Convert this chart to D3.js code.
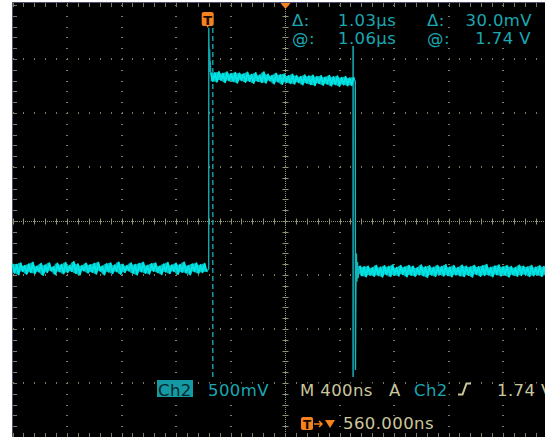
<!DOCTYPE html>
<html><head><meta charset="utf-8">
<script src="https://cdn.jsdelivr.net/npm/d3@7"></script>
<style>
html,body{margin:0;padding:0;background:#fff;}
svg{display:block;}
text{font-family:"DejaVu Sans",sans-serif;}
</style>
</head><body>
<svg id="c" width="545" height="437"></svg>
<script>
// ---------- data ----------
const timePerDiv = 400;      // ns / div
const voltPerDiv = 500;      // mV / div
const horizPos = 560;        // ns (trigger -> screen centre)
const sampleStep = 15;       // ns between samples
const cursorTimes = [30, 1060]; // ns, cursor 1 (dashed), cursor 2 (solid)

const preStart = -1440;
const preSamples = [
-395,-480,-405,-495,-390,-465,-415,-490,-400,-475,
-385,-485,-420,-470,-395,-500,-410,-475,-390,-460,
-425,-493,-393,-467,-405,-487,-387,-475,-413,-465,
-380,-483,-400,-497,-415,-460,-393,-480,-407,-473,
-395,-488,-385,-463,-420,-495,-398,-471,-390,-485,
-410,-467,-383,-491,-403,-475,-415,-460,-391,-483,
-405,-497,-395,-468,-385,-481,-413,-489,-397,-463,
-390,-475,-420,-493,-401,-470,-387,-485,-409,-465,
-393,-491,-405,-473,-383,-480,-415,-495,-399,-467,
-391,-483,-407,-475,-395,-470];

const highStart = 15;
const highSamples = [
1375,1295,1370,1290,1380,1305,1365,1285,1377,1300,
1363,1293,1373,1280,1367,1303,1360,1287,1375,1295,
1355,1277,1370,1295,1350,1285,1377,1280,1357,1300,
1345,1273,1365,1290,1353,1267,1360,1285,1343,1275,
1357,1270,1345,1285,1335,1263,1350,1277,1340,1265,
1347,1257,1335,1275,1343,1260,1330,1270,1345,1253,
1333,1265,1340,1250,1327,1263,1335,1255,1323,1257,1330];

const postStart = 1110;
const postSamples = [
-415,-505,-425,-515,-420,-500,-435,-510,-413,-503,
-430,-517,-417,-495,-423,-513,-410,-500,-433,-507,
-415,-493,-427,-515,-413,-501,-421,-510,-435,-497,
-410,-505,-425,-520,-417,-499,-431,-511,-413,-495,
-423,-508,-407,-502,-429,-515,-415,-497,-433,-505,
-411,-513,-420,-500,-427,-517,-413,-493,-425,-510,
-417,-503,-405,-499,-431,-514,-419,-495,-410,-507,
-425,-501,-415,-516,-423,-498,-433,-509,-412,-502,
-420,-495,-427,-512,-414,-505,-430,-499,-416,-511,
-423,-503];

// edge transitions [ns, mV]
const riseEdge = [[-15,-470],[0,-440],[0.5,1790],[4,1450],[7,1590],[10,1380],[12,1480],[15,1375]];
const fallEdge = [[1065,1330],[1072,1300],[1076,1290],[1077,-1380],[1080,-650],[1084,-300],[1088,-560],[1092,-380],[1097,-530],[1102,-420],[1106,-490],[1110,-415]];

const readTop = [["Δ:", "1.03µs", "Δ:", "30.0mV"], ["@:", "1.06µs", "@:", "1.74 V"]];
const chLabel = "Ch2", scaleLabel = "500mV", timebaseLabel = "M 400ns",
      trigSrcA = "A", trigSrc = "Ch2", trigLevel = "1.74 V", posLabel = "560.000ns";

// ---------- drawing ----------
const svg = d3.select("#c");
const W = 545, H = 437;
const x = d3.scaleLinear().domain([horizPos - 5*timePerDiv, horizPos + 5*timePerDiv]).range([12.5, 557.5]);
const y = d3.scaleLinear().domain([-4*voltPerDiv, 4*voltPerDiv]).range([437, 5]);

svg.append("rect").attr("x",0).attr("y",0).attr("width",W).attr("height",H).attr("fill","#fff");
svg.append("rect").attr("x",12).attr("y",2).attr("width",W-12).attr("height",H-2).attr("fill","#000");
svg.append("line").attr("x1",12.5).attr("x2",12.5).attr("y1",2).attr("y2",H).attr("stroke","#505070").attr("stroke-width",1);
svg.append("line").attr("x1",12).attr("x2",W).attr("y1",2.5).attr("y2",2.5).attr("stroke","#505070").attr("stroke-width",1);

const grid = svg.append("g");
const gridCol = "#7c7c60";
const majX = d3.range(-5, 6).map(i => horizPos + i*timePerDiv);
const majY = d3.range(-4, 5).map(i => i*voltPerDiv);
const minX = d3.range(-25, 26).map(i => horizPos + i*timePerDiv/5);
const minY = d3.range(-20, 21).map(i => i*voltPerDiv/5);

majX.forEach((t,i) => {
  if (i === 5 || i === 0) return;
  minY.forEach(v => grid.append("rect").attr("x", Math.round(x(t))-1).attr("y", Math.round(y(v))).attr("width",2).attr("height",1).attr("fill",gridCol));
});
majY.forEach((v,i) => {
  if (i === 4 || i === 0 || i === 8) return;
  minX.forEach(t => grid.append("rect").attr("x", Math.round(x(t))).attr("y", Math.round(y(v))-1).attr("width",1).attr("height",2).attr("fill",gridCol));
});
const cx = Math.round(x(horizPos)) + 0.5, cy = Math.round(y(0)) + 0.5;
const ctrCol = "#929274";
grid.append("line").attr("x1",13).attr("x2",W).attr("y1",cy).attr("y2",cy).attr("stroke",ctrCol).attr("stroke-dasharray","1,1");
grid.append("line").attr("x1",cx).attr("x2",cx).attr("y1",3).attr("y2",H).attr("stroke",ctrCol).attr("stroke-dasharray","1,1");
minX.forEach(t => grid.append("line").attr("x1",Math.round(x(t))+0.5).attr("x2",Math.round(x(t))+0.5).attr("y1",cy-3).attr("y2",cy+3).attr("stroke",ctrCol));
minY.forEach(v => grid.append("line").attr("y1",Math.round(y(v))+0.5).attr("y2",Math.round(y(v))+0.5).attr("x1",cx-3).attr("x2",cx+3).attr("stroke",ctrCol));
minX.forEach(t => grid.append("line").attr("x1",Math.round(x(t))+0.5).attr("x2",Math.round(x(t))+0.5).attr("y1",3).attr("y2",7).attr("stroke",gridCol));
minX.forEach(t => grid.append("line").attr("x1",Math.round(x(t))+0.5).attr("x2",Math.round(x(t))+0.5).attr("y1",H-4).attr("y2",H).attr("stroke",gridCol));
minY.forEach(v => grid.append("line").attr("y1",Math.round(y(v))+0.5).attr("y2",Math.round(y(v))+0.5).attr("x1",13).attr("x2",17).attr("stroke",gridCol));

// cursors
const curCol = "#13939c";
svg.append("line").attr("x1",x(cursorTimes[0])).attr("x2",x(cursorTimes[0])).attr("y1",28).attr("y2",378)
  .attr("stroke",curCol).attr("stroke-width",1.6).attr("stroke-dasharray","5,3");
svg.append("line").attr("x1",x(cursorTimes[1])).attr("x2",x(cursorTimes[1])).attr("y1",46).attr("y2",377)
  .attr("stroke",curCol).attr("stroke-width",1.8);

// trace
const line = d3.line().x(d => x(d[0])).y(d => y(d[1]));
const toPts = (start, arr) => arr.map((v,i) => [start + i*sampleStep, v]);
const traceCol = "#00e4e4";
svg.append("path").attr("d", line(riseEdge)).attr("fill","none").attr("stroke","#13a8b0").attr("stroke-width",1.4);
svg.append("path").attr("d", line(fallEdge)).attr("fill","none").attr("stroke","#12b6bc").attr("stroke-width",1.4);
const band = d3.area().x(d => x(d[0])).y0(d => y(d[1])).y1(d => y(d[2]));
[[preStart,preSamples],[highStart,highSamples],[postStart,postSamples]].forEach(([s,a]) => {
  const pts = toPts(s,a);
  const env = pts.map((p,i) => {
    const q = pts[Math.min(i+1, pts.length-1)];
    return [p[0], Math.min(p[1], q[1]), Math.max(p[1], q[1])];
  });
  svg.append("path").attr("d", band(env)).attr("fill","#00c8cc").attr("opacity",0.9);
  svg.append("path").attr("d", line(pts)).attr("fill","none").attr("stroke",traceCol).attr("stroke-width",1.9).attr("stroke-linejoin","round");
});

// text helpers
const teal = "#1aa7b1", khaki = "#cbc79c", orange = "#f5821f";
function txt(str, px, py, col, anchor, fs) {
  const g = svg.append("g");
  const t = g.append("text").attr("x",px).attr("y",py).attr("fill",col).attr("font-size",fs||16.5)
     .attr("letter-spacing", 0.4).attr("text-anchor",anchor||"start").text(str);
  const b = t.node().getBBox();
  g.insert("rect","text").attr("x",b.x-1).attr("y",b.y+3).attr("width",b.width+2).attr("height",b.height-5).attr("fill","#000");
  return t;
}
// top readouts
txt(readTop[0][0], 292, 25.5, teal); txt(readTop[0][1], 338, 25.5, teal);
txt(readTop[0][2], 427, 25.5, teal); txt(readTop[0][3], 532, 25.5, teal, "end");
txt(readTop[1][0], 292, 44, teal); txt(readTop[1][1], 338, 44, teal);
txt(readTop[1][2], 427, 44, teal); txt(readTop[1][3], 531, 44, teal, "end");

// trigger position triangle at top
svg.append("path").attr("d", `M${cx-5},3 L${cx+5},3 L${cx},9 Z`).attr("fill",orange);
// trigger T marker
const tx = x(0) - 1;
svg.append("path").attr("d", `M${tx-6},14 Q${tx-6},12 ${tx-4},12 L${tx+4},12 Q${tx+6},12 ${tx+6},14 L${tx+6},24 Q${tx+6},26 ${tx+4},26 L${tx+1},26 L${tx},28 L${tx-1},26 L${tx-4},26 Q${tx-6},26 ${tx-6},24 Z`).attr("fill",orange);
svg.append("text").attr("x",tx).attr("y",24.5).attr("text-anchor","middle").attr("font-size",13).attr("font-weight","bold").attr("fill","#1a0800").text("T");

// bottom readouts
svg.append("rect").attr("x",157).attr("y",380).attr("width",36).attr("height",17).attr("fill","#159aa4");
svg.append("text").attr("x",158).attr("y",395.5).attr("font-size",16.5).attr("letter-spacing",0.4).attr("fill","#04262a").text(chLabel);
txt(scaleLabel, 208, 395.5, teal);
txt(timebaseLabel, 300, 395.5, khaki);
txt(trigSrcA, 389, 395.5, khaki);
txt(trigSrc, 414, 395.5, teal);
svg.append("path").attr("d","M458,394.5 L462.5,394.5 L466.5,383.5 L471,383.5").attr("fill","none").attr("stroke",khaki).attr("stroke-width",2);
txt(trigLevel, 497, 395.5, khaki);

// horizontal position row
svg.append("rect").attr("x",301).attr("y",417).attr("width",12).attr("height",13).attr("rx",2).attr("fill",orange);
svg.append("text").attr("x",307).attr("y",428.5).attr("text-anchor","middle").attr("font-size",12).attr("font-weight","bold").attr("fill","#1a0800").text("T");
svg.append("path").attr("d","M314,424 L322,424 M319,421 L322,424 L319,427").attr("fill","none").attr("stroke",orange).attr("stroke-width",1.5);
svg.append("path").attr("d","M325,420 L335,420 L330,428 Z").attr("fill",orange);
txt(posLabel, 343, 429, khaki);
</script>
</body></html>
